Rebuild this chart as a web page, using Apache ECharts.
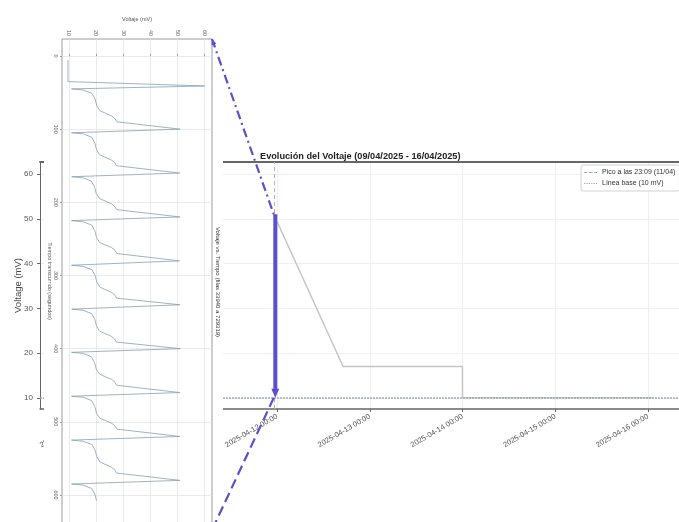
<!DOCTYPE html>
<html><head><meta charset="utf-8">
<script src="https://cdn.jsdelivr.net/npm/echarts@6/dist/echarts.min.js"></script>
<style>html,body{margin:0;padding:0;background:#fff}#c{width:679px;height:522px}</style>
</head><body><div id="c"></div>
<script>
// ---- Left (inset) plot: voltage sweep vs elapsed seconds ----
const sweepTimes = [5.5, 35, 41,
  45, 46.5, 51, 59, 68, 75, 82, 86, 88, 90, 100,
  105, 106.5, 111, 119, 128, 135, 142, 146, 148, 150, 160,
  165, 166.5, 171, 179, 188, 195, 202, 206, 208, 210, 220,
  225, 226.5, 231, 239, 248, 255, 262, 266, 268, 270, 280,
  286, 287.5, 292, 300, 309, 316, 323, 327, 329, 331, 340,
  346, 347.5, 352, 360, 369, 376, 383, 387, 389, 391, 400,
  405, 406.5, 411, 419, 428, 435, 442, 446, 448, 450, 460,
  465, 466.5, 471, 479, 488, 495, 502, 506, 508, 510, 520,
  525, 526.5, 531, 539, 548, 555, 562, 566, 568, 570, 580,
  585, 586.5, 591, 599, 608];
const sweepVolts = [9.7, 9.7, 60.0,
  11.0, 15.2, 18.5, 19.7, 20.3, 21.5, 25.8, 27.1, 26.8, 27.7, 51.0,
  11.0, 15.4, 18.4, 19.6, 20.2, 21.3, 25.6, 27.0, 26.6, 27.5, 50.8,
  11.1, 15.3, 18.3, 19.5, 20.1, 21.4, 25.7, 27.0, 26.7, 27.6, 50.9,
  11.0, 15.2, 18.4, 19.6, 20.2, 21.4, 25.8, 27.1, 26.8, 27.7, 50.7,
  11.0, 15.3, 18.5, 19.7, 20.3, 21.5, 25.7, 27.0, 26.7, 27.6, 50.9,
  11.1, 15.2, 18.4, 19.6, 20.2, 21.3, 25.6, 26.9, 26.6, 27.5, 51.0,
  11.0, 15.3, 18.3, 19.5, 20.1, 21.4, 25.7, 27.0, 26.7, 27.6, 50.8,
  11.0, 15.4, 18.4, 19.6, 20.2, 21.4, 25.8, 27.1, 26.8, 27.7, 50.9,
  11.0, 15.2, 18.5, 19.7, 20.3, 21.5, 25.7, 27.0, 26.7, 27.6, 50.9,
  11.0, 15.3, 18.4, 19.6, 20.2];
const sweepTimeTicks = [0, 100, 200, 300, 400, 500, 600];
const sweepTimeRange = [-23.2, 796.8];

// ---- Shared voltage scale ----
const voltTicks = [10, 20, 30, 40, 50, 60];
const voltRange = [7.5, 62.7];

// ---- Right plot: voltage evolution over days ----
const evoTimes = ['2025-04-11T23:09', '2025-04-12T17:05', '2025-04-13T23:59', '2025-04-14T00:00', '2025-04-16T01:00'];
const evoVolts = [51.0, 17.0, 17.0, 10.0, 10.0];
const dayTicks = ['2025-04-10T00:00', '2025-04-11T00:00', '2025-04-12T00:00', '2025-04-13T00:00', '2025-04-14T00:00', '2025-04-15T00:00', '2025-04-16T00:00'];
const evoRange = ['2025-04-09T10:38', '2025-04-16T08:02'];
const peakTime = '2025-04-11T23:09';
const peakVolt = 51.0;
const baseline = 10;

const ts = s => new Date(s).getTime();
const pad = n => String(n).padStart(2, '0');
const fmtDate = v => { const d = new Date(v); return d.getFullYear() + '-' + pad(d.getMonth() + 1) + '-' + pad(d.getDate()) + ' ' + pad(d.getHours()) + ':' + pad(d.getMinutes()); };

const FONT = "'Liberation Sans', sans-serif";
const ANNO = '#5a4fcf';
const DASH_ICON = 'path://M0,0h3.5v1h-3.5z M5,0h3.5v1h-3.5z M10,0h3v1h-3z';
const DOT_ICON = 'path://M0,0h1.2v1h-1.2z M2.4,0h1.2v1h-1.2z M4.8,0h1.2v1h-1.2z M7.2,0h1.2v1h-1.2z M9.6,0h1.2v1h-1.2z M12,0h1v1h-1z';

const chart = echarts.init(document.getElementById('c'), null, {renderer: 'canvas'});
chart.setOption({
  animation: false,
  backgroundColor: '#fff',
  textStyle: {fontFamily: FONT},
  title: {
    text: 'Evolución del Voltaje (09/04/2025 - 16/04/2025)',
    left: 255, top: 147,
    textStyle: {fontSize: 9.2, fontWeight: 'bold', color: '#222', fontFamily: FONT}
  },
  legend: {
    orient: 'vertical', left: 581, top: 165,
    itemWidth: 13, itemHeight: 1.3, itemGap: 4,
    padding: [4, 4, 4, 3],
    backgroundColor: '#fff', borderColor: '#d0d0d0', borderWidth: 1, borderRadius: 2,
    textStyle: {fontSize: 7, color: '#333', fontFamily: FONT},
    data: [
      {name: 'Pico a las 23:09 (11/04)', icon: DASH_ICON},
      {name: 'Línea base (10 mV)', icon: DOT_ICON}
    ]
  },
  grid: [
    {left: 40, top: 162, width: 639, height: 247, outerBoundsMode: 'none', containLabel: false},
    {left: 62, top: 39, width: 150, height: 600, outerBoundsMode: 'none', containLabel: false,
      show: true, borderColor: '#9a9a9a', borderWidth: 1, backgroundColor: 'rgba(0,0,0,0)', z: 30}
  ],
  xAxis: [
    {gridIndex: 0, type: 'value', min: ts(evoRange[0]), max: ts(evoRange[1]),
      axisLine: {show: true, onZero: false, lineStyle: {color: '#666', width: 1.5}},
      axisTick: {show: true, customValues: dayTicks.map(ts), length: 3, lineStyle: {color: '#666'}},
      axisLabel: {customValues: dayTicks.map(ts), rotate: 30, fontSize: 7.5, color: '#555', margin: 7, formatter: v => fmtDate(v)},
      splitLine: {show: true, lineStyle: {color: '#efefef', width: 1}}},
    {gridIndex: 0, type: 'value', position: 'top', min: ts(evoRange[0]), max: ts(evoRange[1]),
      axisLine: {show: true, onZero: false, lineStyle: {color: '#666', width: 1.8}},
      axisTick: {show: false}, axisLabel: {show: false}, splitLine: {show: false}},
    {gridIndex: 1, type: 'value', position: 'top', min: voltRange[0], max: voltRange[1], z: 30,
      axisLine: {show: false},
      axisTick: {show: true, customValues: voltTicks, length: 2, lineStyle: {color: '#999'}},
      axisLabel: {customValues: voltTicks, rotate: -90, fontSize: 5.5, color: '#666', margin: 3},
      splitLine: {show: true, lineStyle: {color: '#e4e4e4', width: 0.8}},
      name: 'Voltaje (mV)', nameLocation: 'middle', nameGap: 17, nameMoveOverlap: false,
      nameTextStyle: {fontSize: 5.5, color: '#555'}}
  ],
  yAxis: [
    {gridIndex: 0, type: 'value', min: voltRange[0], max: voltRange[1],
      axisLine: {show: true, onZero: false, lineStyle: {color: '#666', width: 1}},
      axisTick: {show: true, customValues: voltTicks, length: 3, lineStyle: {color: '#666'}},
      axisLabel: {customValues: voltTicks, fontSize: 8, color: '#555', margin: 7},
      splitLine: {show: true, lineStyle: {color: '#efefef', width: 1}},
      name: 'Voltage (mV)', nameLocation: 'middle', nameGap: 17, nameMoveOverlap: false,
      nameTextStyle: {fontSize: 9.5, color: '#444'}},
    {gridIndex: 1, type: 'value', inverse: true, min: sweepTimeRange[0], max: sweepTimeRange[1], z: 30,
      axisLine: {show: false},
      axisTick: {show: true, customValues: sweepTimeTicks, length: 2, lineStyle: {color: '#999'}},
      axisLabel: {customValues: sweepTimeTicks, rotate: -90, fontSize: 5.5, color: '#666', margin: 3},
      splitLine: {show: true, lineStyle: {color: '#e4e4e4', width: 0.8}}}
  ],
  graphic: [
    {id: 'cover', type: 'rect', shape: {x: 44, y: 0, width: 179, height: 522}, style: {fill: '#fff'}, z: 20, silent: true},
    {id: 'insetTitle', type: 'text', x: 218, y: 282, rotation: -Math.PI / 2, z: 35, silent: true,
      style: {text: 'Voltaje vs. Tiempo (filas 33940 a 729319)', fontSize: 6, fill: '#333', textAlign: 'center', textVerticalAlign: 'middle', align: 'center', verticalAlign: 'middle'}},
    {id: 'insetYName', type: 'text', x: 50, y: 281, rotation: -Math.PI / 2, z: 35, silent: true,
      style: {text: 'Tiempo transcurrido (segundos)', fontSize: 5.5, fill: '#555', textAlign: 'center', textVerticalAlign: 'middle', align: 'center', verticalAlign: 'middle'}}
  ],
  series: [
    {name: 'Voltaje', type: 'line', xAxisIndex: 0, yAxisIndex: 0, symbol: 'none',
      lineStyle: {color: '#c6c6c6', width: 1.5},
      data: evoTimes.map((t, i) => [ts(t), evoVolts[i]])},
    {name: 'Pico a las 23:09 (11/04)', type: 'line', xAxisIndex: 0, yAxisIndex: 0, symbol: 'none', showSymbol: false, data: [],
      itemStyle: {color: '#c99aa3'},
      lineStyle: {color: '#d3a6ae', width: 1, type: [4, 3]},
      markLine: {silent: true, symbol: ['none', 'none'], label: {show: false},
        lineStyle: {color: '#d3a6ae', width: 1, type: [4, 3]},
        data: [{xAxis: ts(peakTime)}]}},
    {name: 'Línea base (10 mV)', type: 'line', xAxisIndex: 0, yAxisIndex: 0, symbol: 'none', showSymbol: false, data: [],
      itemStyle: {color: '#9aacb8'},
      lineStyle: {color: '#9aacb8', width: 1.5, type: [2, 1]},
      markLine: {silent: true, symbol: ['none', 'none'], label: {show: false},
        lineStyle: {color: '#9aacb8', width: 1.5, type: [2, 1]},
        data: [{yAxis: baseline}]}},
    {name: 'sweep', type: 'line', xAxisIndex: 2, yAxisIndex: 1, symbol: 'none', z: 30,
      lineStyle: {color: '#86a0b0', width: 0.8},
      data: sweepTimes.map((t, i) => [sweepVolts[i], t])}
  ]
});

// ---- Annotation arrows, positioned through the axes' scales ----
const pPeak = chart.convertToPixel({xAxisIndex: 0, yAxisIndex: 0}, [ts(peakTime), peakVolt]);
const pBase = chart.convertToPixel({xAxisIndex: 0, yAxisIndex: 0}, [ts(peakTime), baseline]);
const pCorner = chart.convertToPixel({xAxisIndex: 2, yAxisIndex: 1}, [voltRange[1], sweepTimeRange[0]]);
const bottomEnd = [pCorner[0], 530];
function head(tip, from, size, w) {
  const dx = tip[0] - from[0], dy = tip[1] - from[1], L = Math.hypot(dx, dy), ux = dx / L, uy = dy / L;
  const bx = tip[0] - ux * size, by = tip[1] - uy * size;
  return [[tip[0], tip[1]], [bx - uy * w, by + ux * w], [bx + uy * w, by - ux * w]];
}
const barX = pPeak[0] + 1.5;
chart.setOption({graphic: [
  {id: 'a1', type: 'line', z: 50, silent: true,
    shape: {x1: pCorner[0], y1: pCorner[1], x2: pPeak[0], y2: pPeak[1]},
    style: {stroke: ANNO, lineWidth: 2.2, lineDash: [9, 4, 2, 4]}},
  {id: 'a1h', type: 'polygon', z: 50, silent: true,
    shape: {points: head(pCorner, pPeak, 6, 2.5)}, style: {fill: ANNO}},
  {id: 'a2', type: 'line', z: 50, silent: true,
    shape: {x1: barX, y1: pPeak[1], x2: barX, y2: pBase[1] - 6},
    style: {stroke: ANNO, lineWidth: 4}},
  {id: 'a2h', type: 'polygon', z: 50, silent: true,
    shape: {points: head([barX, pBase[1]], [barX, pPeak[1]], 9, 4)}, style: {fill: ANNO}},
  {id: 'a3', type: 'line', z: 50, silent: true,
    shape: {x1: pBase[0], y1: pBase[1], x2: bottomEnd[0], y2: bottomEnd[1]},
    style: {stroke: ANNO, lineWidth: 2.2, lineDash: [10, 5]}}
]});
</script></body></html>
